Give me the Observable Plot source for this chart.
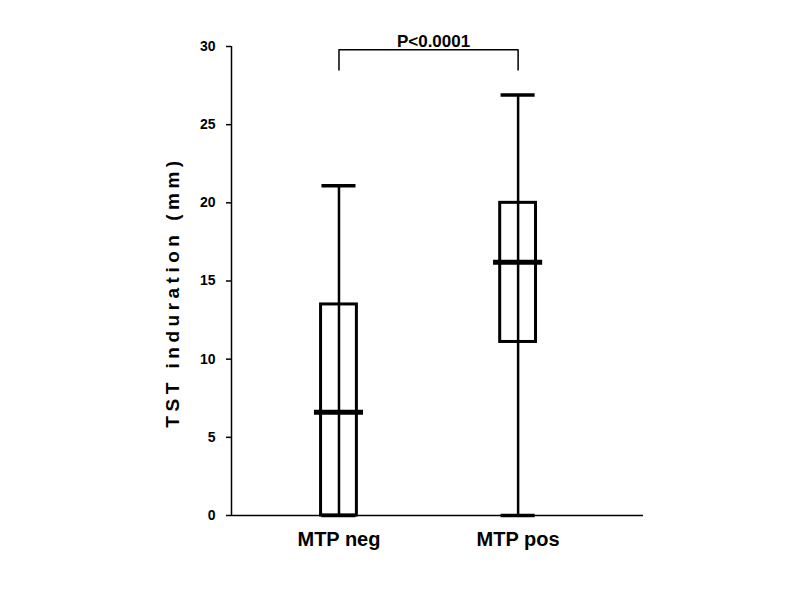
<!DOCTYPE html>
<html><head><meta charset="utf-8">
<script src="https://cdn.jsdelivr.net/npm/d3@7"></script>
<script src="https://cdn.jsdelivr.net/npm/@observablehq/plot@0.6"></script>
<style>body{margin:0;background:#fff;}</style>
</head><body><div id="chart"></div>
<script>
const categories = ["MTP neg", "MTP pos"];
const whiskerLow = [0, 0];
const boxLow = [0, 11.1];
const medians = [6.6, 16.2];
const boxHigh = [13.5, 20.0];
const whiskerHigh = [21.1, 26.9];
const yTicks = [0, 5, 10, 15, 20, 25, 30];
const pLabel = "P<0.0001";
const yLabel = "TST induration (mm)";
const bracketLow = 28.5;
const bracketHigh = 29.8;

const data = categories.map((c, i) => ({
  name: c, pos: i + 1,
  wlo: whiskerLow[i], q1: boxLow[i], med: medians[i], q3: boxHigh[i], whi: whiskerHigh[i]
}));
const p1 = data[0].pos, p2 = data[1].pos;
const bracket = [
  {x: p1, y: bracketLow}, {x: p1, y: bracketHigh},
  {x: p2, y: bracketHigh}, {x: p2, y: bracketLow}
];
const xDomain = [0.4, 2.7];

const chart = Plot.plot({
  width: 797, height: 597,
  marginLeft: 231, marginRight: 154, marginTop: 46, marginBottom: 82,
  style: {fontFamily: "'Liberation Sans', Arial, sans-serif", fontWeight: "bold", background: "#fff", color: "#000"},
  x: {type: "linear", domain: xDomain},
  y: {domain: [0, 30]},
  marks: [
    Plot.ruleY([0], {strokeWidth: 1.5}),
    Plot.ruleX([xDomain[0]], {y1: 0, y2: 30, strokeWidth: 1.5}),
    Plot.axisY({ticks: yTicks, tickSize: 5, tickPadding: 11, fontSize: 14, fontWeight: "bold", label: null, strokeWidth: 1.5}),
    Plot.axisX({ticks: data.map(d => d.pos), tickSize: 0, tickPadding: 16, tickFormat: d => categories[d - 1], fontSize: 20, fontWeight: "bold", label: null}),
    Plot.ruleX(data, {x: "pos", y1: "wlo", y2: "whi", strokeWidth: 2.5}),
    Plot.rect(data, {x1: d => d.pos - 0.1, x2: d => d.pos + 0.1, y1: "q1", y2: "q3", fill: "none", stroke: "black", strokeWidth: 3}),
    Plot.ruleY(data, {y: "whi", x1: d => d.pos - 0.095, x2: d => d.pos + 0.095, strokeWidth: 3.5}),
    Plot.ruleY(data, {y: "wlo", x1: d => d.pos - 0.095, x2: d => d.pos + 0.095, strokeWidth: 3.5}),
    Plot.ruleY(data, {y: "med", x1: d => d.pos - 0.137, x2: d => d.pos + 0.137, strokeWidth: 5}),
    Plot.line(bracket, {x: "x", y: "y", strokeWidth: 1.5}),
    Plot.text([pLabel], {x: (p1 + p2) / 2, frameAnchor: "top", dy: -12, dx: 5, text: d => d, fontSize: 17, fontWeight: "bold"}),
    Plot.text([yLabel], {frameAnchor: "left", textAnchor: "middle", dx: -59, dy: 11, rotate: -90, text: d => d, fontSize: 19, fontWeight: "bold"})
  ]
});
d3.select(chart).selectAll("text").filter(function() { return this.textContent === yLabel; })
  .style("letter-spacing", "4.5px");
document.getElementById("chart").appendChild(chart);
</script>
</body></html>
